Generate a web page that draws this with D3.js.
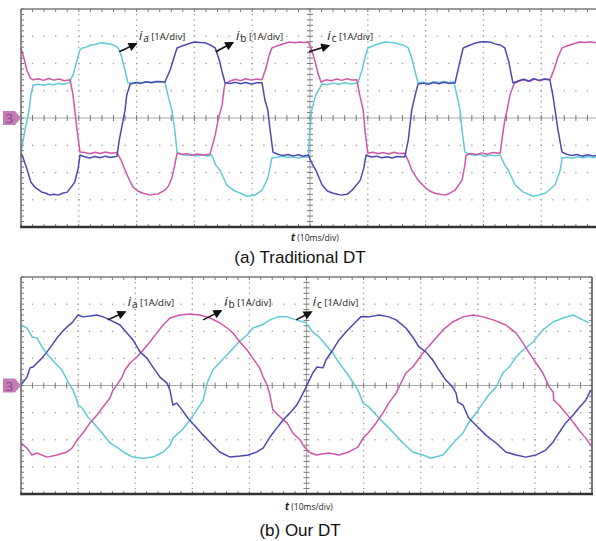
<!DOCTYPE html>
<html>
<head>
<meta charset="utf-8">
<script src="https://cdn.jsdelivr.net/npm/d3@7/dist/d3.min.js"></script>
<style>
  html, body { margin: 0; padding: 0; background: #fff; }
  svg { display: block; font-family: 'Open Sans', 'DejaVu Sans', sans-serif; }
</style>
</head>
<body>
<div id="chart"></div>
<script>
const SVG_SIZE = Object.freeze({ WIDTH: 596, HEIGHT: 541 }),
      TIME_DOMAIN = [0, 100],      // ms, 10 ms/div
      CURRENT_DOMAIN = [-4, 4],    // A, 1 A/div
      MINOR_T = 2,
      MINOR_I = 0.2,
      COLORS = Object.freeze({
        CYAN: '#5fcad8',
        BLUE: '#4b49b1',
        PINK: '#cf56a8'
      }),
      CAPTIONS = ['(a) Traditional DT', '(b) Our DT'],
      PHASES = ['a', 'b', 'c'],
      SCALE_TEXT = '[1A/div]',
      TIME_TEXT = '(10ms/div)',
      CHANNEL_TEXT = '3'

// (a) traditional dead-time: [time ms, current A]
const TRAD_IA = [[0,-1.25],[0.7,-0.44],[1.4,0.29],[1.7,0.85],[2.1,1.21],[3,1.24],[4,1.2],[4.8,1.25],[5.6,1.22],[6.5,1.27],[7.3,1.24],[8.3,1.29],[9.0,1.58],[9.7,2.13],[10.2,2.5],[10.6,2.57],[11.3,2.6],[12,2.68],[12.8,2.7],[13.7,2.76],[14.5,2.74],[15.4,2.72],[16.3,2.65],[16.8,2.57],[17.3,2.32],[18.0,1.76],[18.5,1.29],[19.3,1.27],[20.2,1.31],[21.0,1.29],[21.9,1.33],[22.8,1.3],[23.7,1.34],[24.9,1.32],[25.4,0.85],[26.1,0.29],[26.6,-0.44],[27.0,-1.25],[27.8,-1.33],[28.7,-1.38],[29.6,-1.34],[30.5,-1.39],[31.4,-1.35],[32.2,-1.4],[33.0,-1.36],[33.7,-1.73],[34.4,-1.91],[35.6,-2.46],[37.0,-2.68],[38.0,-2.76],[39.1,-2.87],[40.5,-2.83],[41.7,-2.65],[42.7,-2.21],[43.4,-1.47],[44.3,-1.44],[45.2,-1.4],[46.1,-1.45],[47.0,-1.42],[47.9,-1.47],[48.8,-1.43],[49.7,-1.43],[50.0,-0.44],[50.3,0.29],[51.0,0.85],[52.1,1.25],[53.0,1.23],[54.0,1.28],[55.0,1.24],[56.0,1.29],[57.2,1.25],[58.3,1.29],[59.0,1.76],[59.5,2.2],[60.0,2.57],[61.3,2.68],[62.2,2.74],[63.0,2.79],[64.0,2.77],[64.7,2.76],[65.4,2.71],[66.1,2.68],[67.0,2.57],[67.6,2.2],[68.2,1.69],[68.7,1.29],[69.6,1.31],[70.5,1.27],[71.4,1.33],[72.3,1.3],[73.2,1.34],[74.0,1.3],[74.9,1.32],[75.4,0.85],[75.95,0.29],[76.3,-0.44],[76.8,-1.25],[77.6,-1.33],[78.5,-1.38],[79.4,-1.34],[80.3,-1.4],[81.2,-1.36],[82.0,-1.39],[82.9,-1.36],[83.7,-1.73],[84.3,-1.91],[85.5,-2.46],[86.9,-2.72],[88.6,-2.87],[89.6,-2.83],[90.7,-2.76],[92.4,-2.46],[93.3,-1.91],[93.6,-1.47],[94.5,-1.44],[95.4,-1.48],[96.3,-1.42],[97.2,-1.46],[98.1,-1.41],[99.0,-1.45],[100,-1.43]]
const TRAD_IB = [[0,-1.29],[0.5,-1.54],[1.2,-1.99],[1.7,-2.35],[2.4,-2.54],[3.6,-2.72],[4.3,-2.76],[5.0,-2.83],[5.7,-2.8],[6.4,-2.83],[7.2,-2.76],[8.0,-2.72],[8.8,-2.5],[9.3,-2.35],[9.9,-1.84],[10.2,-1.36],[11.0,-1.42],[11.9,-1.47],[12.8,-1.41],[13.7,-1.46],[14.6,-1.4],[15.5,-1.45],[16.6,-1.4],[17.0,-0.81],[17.5,-0.26],[18.0,0.29],[18.3,0.85],[18.9,1.25],[19.8,1.3],[20.7,1.27],[21.6,1.33],[22.5,1.29],[23.4,1.34],[24.9,1.32],[25.8,1.76],[26.5,2.24],[27.0,2.57],[27.7,2.63],[28.4,2.68],[29.2,2.74],[30.1,2.79],[31.0,2.77],[31.8,2.76],[32.5,2.7],[33.0,2.65],[33.6,2.57],[34.3,2.13],[34.8,1.69],[35.3,1.29],[36.2,1.27],[37.1,1.31],[38.0,1.26],[38.9,1.3],[39.8,1.25],[40.8,1.29],[41.7,1.29],[42.2,0.66],[42.7,0.29],[43.1,-0.44],[43.6,-1.25],[44.4,-1.33],[45.3,-1.38],[46.2,-1.34],[47.1,-1.39],[48.0,-1.35],[48.9,-1.4],[49.7,-1.36],[50.3,-1.65],[51.0,-1.91],[52.1,-2.46],[53.0,-2.68],[54.0,-2.76],[55.4,-2.83],[56.4,-2.8],[57.3,-2.65],[58.7,-2.28],[59.3,-1.84],[59.7,-1.36],[60.6,-1.43],[61.5,-1.4],[62.4,-1.46],[63.3,-1.42],[64.2,-1.47],[65.1,-1.41],[66.4,-1.43],[67.0,-0.81],[67.3,-0.26],[67.6,0.29],[68.2,0.85],[68.7,1.25],[69.6,1.28],[70.5,1.24],[71.4,1.3],[72.3,1.26],[73.2,1.31],[74.1,1.27],[75.1,1.29],[75.8,1.95],[76.5,2.57],[77.7,2.68],[78.5,2.74],[79.4,2.79],[80.3,2.8],[81.1,2.79],[82.0,2.72],[82.9,2.68],[83.7,2.57],[84.4,2.06],[85.1,1.29],[86.0,1.36],[86.9,1.42],[87.8,1.35],[88.7,1.44],[89.6,1.38],[90.5,1.43],[91.5,1.4],[92.0,0.85],[92.4,0.29],[92.9,-0.44],[93.6,-1.25],[94.4,-1.33],[95.3,-1.38],[96.2,-1.34],[97.1,-1.4],[98.0,-1.35],[99.0,-1.39],[100,-1.36]]
const TRAD_IC = [[0,2.57],[0.5,2.2],[1.0,1.76],[1.6,1.47],[2.1,1.4],[3.0,1.44],[3.9,1.38],[4.8,1.45],[5.7,1.39],[6.6,1.43],[7.5,1.37],[8.5,1.4],[9.0,0.85],[9.3,0.29],[9.7,-0.44],[10.2,-1.25],[11.0,-1.27],[11.9,-1.31],[12.8,-1.26],[13.7,-1.3],[14.6,-1.25],[15.6,-1.29],[16.6,-1.27],[17.3,-1.54],[18.0,-1.91],[18.7,-2.25],[19.4,-2.54],[20.2,-2.68],[21.1,-2.76],[22.3,-2.83],[23.0,-2.8],[23.7,-2.79],[24.9,-2.65],[25.5,-2.5],[26.1,-2.21],[26.6,-1.73],[27.0,-1.29],[27.8,-1.34],[28.7,-1.3],[29.6,-1.37],[30.5,-1.32],[31.6,-1.36],[32.7,-1.33],[33.6,-0.63],[34.1,-0.07],[34.8,0.48],[35.1,1.03],[35.3,1.25],[36.2,1.36],[37.1,1.42],[38.0,1.37],[38.9,1.44],[39.8,1.39],[40.8,1.43],[41.7,1.4],[42.4,1.84],[42.9,2.28],[43.4,2.57],[44.1,2.63],[44.8,2.68],[45.7,2.74],[46.5,2.79],[47.4,2.76],[48.3,2.79],[49.0,2.77],[49.7,2.79],[50.2,2.57],[50.9,2.06],[51.4,1.62],[51.9,1.32],[52.8,1.4],[53.7,1.37],[54.6,1.43],[55.5,1.38],[56.4,1.44],[57.3,1.39],[58.1,1.4],[58.6,0.85],[59.2,0.29],[59.5,-0.44],[60.0,-1.29],[60.9,-1.26],[61.8,-1.31],[62.7,-1.27],[63.6,-1.32],[64.5,-1.26],[65.4,-1.3],[66.4,-1.29],[67.1,-1.62],[67.6,-1.91],[68.7,-2.28],[69.9,-2.54],[70.7,-2.68],[71.6,-2.76],[72.5,-2.8],[73.4,-2.83],[74.2,-2.76],[75.1,-2.65],[76.3,-2.28],[76.8,-1.73],[77.0,-1.36],[77.9,-1.3],[78.8,-1.34],[79.7,-1.28],[80.6,-1.33],[81.5,-1.27],[82.9,-1.29],[83.2,-0.81],[83.7,-0.07],[84.1,0.29],[84.6,0.85],[85.3,1.25],[86.2,1.36],[87.1,1.41],[88.0,1.35],[88.9,1.43],[89.8,1.37],[90.6,1.42],[91.5,1.4],[92.2,1.76],[92.9,2.24],[93.6,2.57],[94.3,2.63],[95.0,2.68],[95.9,2.74],[96.7,2.79],[97.6,2.77],[98.5,2.8],[99.5,2.76],[100,2.76]]

// (b) proposed dead-time: [time ms, current A]
const OUR_IA = [[0,0.02],[1.05,0.31],[1.58,0.65],[2.1,0.68],[2.8,0.83],[3.68,1.01],[4.55,1.24],[5.43,1.49],[6.3,1.75],[7.18,1.97],[8.06,2.16],[8.93,2.31],[9.98,2.6],[10.86,2.53],[12.08,2.56],[13.31,2.6],[14.36,2.53],[15.58,2.42],[17.34,2.23],[18.56,1.94],[19.61,1.68],[20.84,1.24],[22.06,1.01],[23.11,0.68],[24.34,0.31],[25.56,0.09],[26.09,-0.17],[26.6,-0.72],[27.3,-0.65],[28.2,-0.9],[29.2,-1.2],[30.8,-1.57],[31.9,-1.83],[33.6,-2.2],[34.8,-2.45],[36.6,-2.64],[38.4,-2.6],[39.8,-2.56],[41.3,-2.45],[42.4,-2.31],[43.6,-1.9],[44.8,-1.57],[45.9,-1.27],[47.1,-1.01],[48.3,-0.72],[49.4,-0.28],[50.1,0.02],[51.1,0.46],[51.8,0.68],[52.9,0.65],[53.4,0.94],[54.6,1.31],[55.7,1.68],[56.9,1.97],[58.1,2.23],[59.5,2.53],[60.9,2.53],[62.7,2.6],[64.4,2.53],[65.7,2.42],[67.4,2.12],[68.6,1.79],[69.7,1.42],[70.9,1.24],[72.1,0.94],[73.2,0.57],[74.4,0.2],[75.6,-0.06],[76.2,-0.28],[76.5,-0.61],[77.4,-0.72],[78.4,-1.2],[80.0,-1.53],[81.4,-1.83],[83.2,-2.12],[84.9,-2.45],[86.7,-2.56],[88.4,-2.64],[90.2,-2.56],[91.9,-2.38],[93.2,-2.08],[94.2,-1.75],[95.4,-1.38],[96.7,-1.09],[97.7,-0.83],[98.9,-0.54],[99.8,-0.17]]
const OUR_IB = [[0,-2.12],[1.05,-2.31],[1.93,-2.56],[2.8,-2.49],[4.55,-2.64],[6.3,-2.56],[8.06,-2.45],[8.93,-2.31],[9.8,-2.01],[10.86,-1.75],[12.08,-1.38],[13.31,-1.09],[14.36,-0.79],[15.58,-0.46],[16.1,-0.17],[16.8,0.02],[17.7,0.31],[18.2,0.57],[19.1,0.83],[20.3,1.05],[21.4,1.31],[22.6,1.61],[23.8,1.94],[24.9,2.23],[26.1,2.49],[27.8,2.6],[29.6,2.64],[31.3,2.6],[33.1,2.49],[34.8,2.31],[36.1,2.12],[37.1,1.94],[38.3,1.61],[39.6,1.31],[40.6,1.01],[41.8,0.65],[42.4,0.31],[43.1,0.02],[43.6,-0.35],[44.1,-0.9],[45.4,-1.16],[46.6,-1.38],[47.6,-1.75],[48.9,-2.01],[49.4,-2.2],[50.4,-2.45],[51.7,-2.56],[53.9,-2.49],[55.7,-2.56],[57.4,-2.45],[59.0,-2.27],[59.9,-1.94],[60.8,-1.75],[62.2,-1.38],[63.4,-1.01],[64.4,-0.65],[65.7,-0.28],[66.2,-0.06],[67.4,0.46],[68.6,0.68],[70.4,1.2],[72.1,1.61],[73.9,2.05],[75.6,2.34],[77.4,2.53],[79.2,2.6],[80.9,2.53],[82.7,2.42],[84.9,2.23],[86.7,1.94],[87.9,1.57],[89.0,1.2],[90.2,0.83],[91.4,0.46],[92.5,-0.06],[93.2,-0.24],[93.3,-0.54],[94.2,-0.72],[95.4,-1.01],[96.7,-1.35],[97.7,-1.64],[98.9,-1.94],[99.8,-2.2]]
const OUR_IC = [[0,2.23],[1.05,2.12],[1.93,1.79],[2.8,1.75],[3.68,1.42],[4.73,1.12],[5.95,0.83],[7.18,0.57],[8.23,0.13],[9.1,-0.17],[9.8,-0.54],[9.98,-0.72],[10.7,-0.83],[11.7,-1.16],[13.0,-1.46],[14.2,-1.75],[15.6,-2.12],[16.8,-2.27],[18.2,-2.49],[19.6,-2.64],[21.4,-2.68],[23.1,-2.64],[24.9,-2.45],[26.1,-2.2],[26.6,-1.94],[28.2,-1.64],[29.6,-1.27],[30.8,-0.9],[31.9,-0.54],[32.6,0.09],[33.6,0.57],[35.2,0.94],[36.6,1.24],[38.0,1.57],[39.6,1.86],[40.6,2.12],[42.2,2.23],[43.6,2.42],[45.0,2.53],[46.6,2.53],[48.2,2.42],[49.9,2.31],[51.1,1.97],[52.2,1.79],[53.4,1.49],[54.6,1.2],[55.7,0.83],[56.9,0.5],[58.1,0.13],[59.0,-0.17],[59.5,-0.42],[59.9,-0.65],[60.9,-0.79],[62.2,-1.09],[63.4,-1.35],[65.1,-1.71],[66.9,-2.12],[68.6,-2.45],[70.4,-2.56],[71.8,-2.68],[73.9,-2.56],[74.9,-2.31],[76.2,-2.01],[77.4,-1.75],[78.4,-1.38],[79.7,-1.01],[80.9,-0.65],[81.9,-0.35],[83.2,-0.06],[84.4,0.46],[85.5,0.68],[86.7,1.05],[87.9,1.31],[89.7,1.61],[91.4,2.05],[93.2,2.34],[94.9,2.49],[96.7,2.6],[98.4,2.42],[99.5,2.31]]

// label anchors in data units: [time, current]
const TRAD_LABELS = [
  { text: [20.4, 2.87], from: [17.0, 2.43], to: [19.9, 2.72] },
  { text: [37.2, 2.87], from: [33.7, 2.43], to: [36.6, 2.76] },
  { text: [53.0, 2.87], from: [49.8, 2.43], to: [53.2, 2.65] }
]
const OUR_LABELS = [
  { text: [18.7, 2.93], from: [15.2, 2.42], to: [18.2, 2.71] },
  { text: [35.6, 2.93], from: [31.9, 2.42], to: [35.0, 2.75] },
  { text: [51.1, 2.93], from: [48.2, 2.42], to: [50.8, 2.71] }
]

const PANELS = [
  {
    LEFT: 21, RIGHT: 599, TOP: 9, BOTTOM: 227, TIME_Y: 241, TIME_X: 291, CAPTION_Y: 263,
    series: [[TRAD_IA, COLORS.CYAN], [TRAD_IC, COLORS.PINK], [TRAD_IB, COLORS.BLUE]],
    labels: TRAD_LABELS, caption: CAPTIONS[0], closed: false
  },
  {
    LEFT: 21, RIGHT: 592, TOP: 277, BOTTOM: 494, TIME_Y: 510, TIME_X: 285, CAPTION_Y: 536,
    series: [[OUR_IC, COLORS.CYAN], [OUR_IB, COLORS.PINK], [OUR_IA, COLORS.BLUE]],
    labels: OUR_LABELS, caption: CAPTIONS[1], closed: true
  }
]

const svg = d3.select('#chart')
  .append('svg')
  .attr('width', SVG_SIZE.WIDTH)
  .attr('height', SVG_SIZE.HEIGHT)

const defs = svg.append('defs')
defs.append('marker')
  .attr('id', 'arrow')
  .attr('viewBox', '0 0 10 10')
  .attr('refX', 8)
  .attr('refY', 5)
  .attr('markerUnits', 'userSpaceOnUse')
  .attr('markerWidth', 10)
  .attr('markerHeight', 9)
  .attr('orient', 'auto')
  .append('path')
  .attr('d', 'M0,0L10,5L0,10Z')
  .attr('fill', '#111')

const buildPanel = (p) => {
  const x = d3.scaleLinear().domain(TIME_DOMAIN).range([p.LEFT, p.RIGHT]),
        y = d3.scaleLinear().domain(CURRENT_DOMAIN).range([p.BOTTOM, p.TOP])
  const g = svg.append('g')

  const minorT = d3.range(TIME_DOMAIN[0], TIME_DOMAIN[1] + 0.01, MINOR_T),
        minorI = d3.range(CURRENT_DOMAIN[0], CURRENT_DOMAIN[1] + 0.01, MINOR_I),
        gridT = x.ticks(10).filter(t => t > 0 && t < 100 && t !== 50),
        gridI = y.ticks(8).filter(v => v > -4 && v < 4 && v !== 0)

  // dotted graticule
  const dots = []
  gridT.forEach(t => minorI.forEach(v => dots.push([t, v])))
  gridI.forEach(v => minorT.forEach(t => dots.push([t, v])))
  g.append('g').selectAll('rect')
    .data(dots)
    .enter()
    .append('rect')
    .attr('x', d => x(d[0]) - 0.6)
    .attr('y', d => y(d[1]) - 0.6)
    .attr('width', 1.3)
    .attr('height', 1.3)
    .attr('fill', '#9a9a9a')

  // centre cross with ticks
  g.append('line')
    .attr('x1', x(0)).attr('x2', x(100))
    .attr('y1', y(0)).attr('y2', y(0))
    .attr('stroke', '#a8a8a8').attr('stroke-width', 1)
  g.append('line')
    .attr('x1', x(50)).attr('x2', x(50))
    .attr('y1', y(-4)).attr('y2', y(4))
    .attr('stroke', '#a8a8a8').attr('stroke-width', 1)
  g.append('g').selectAll('line')
    .data(minorT)
    .enter()
    .append('line')
    .attr('x1', d => x(d)).attr('x2', d => x(d))
    .attr('y1', y(0) - 3).attr('y2', y(0) + 3)
    .attr('stroke', '#777').attr('stroke-width', 1)
  g.append('g').selectAll('line')
    .data(minorI)
    .enter()
    .append('line')
    .attr('x1', x(50) - 3).attr('x2', x(50) + 3)
    .attr('y1', d => y(d)).attr('y2', d => y(d))
    .attr('stroke', '#777').attr('stroke-width', 1)

  // edge ticks
  const edgeTicks = g.append('g').attr('stroke', '#777').attr('stroke-width', 1)
  minorI.forEach(v => {
    edgeTicks.append('line')
      .attr('x1', x(0)).attr('x2', x(0) + 3)
      .attr('y1', y(v)).attr('y2', y(v))
    if (p.closed) {
      edgeTicks.append('line')
        .attr('x1', x(100) - 3).attr('x2', x(100))
        .attr('y1', y(v)).attr('y2', y(v))
    }
  })
  minorT.forEach(t => {
    edgeTicks.append('line')
      .attr('x1', x(t)).attr('x2', x(t))
      .attr('y1', y(4)).attr('y2', y(4) + 3)
    edgeTicks.append('line')
      .attr('x1', x(t)).attr('x2', x(t))
      .attr('y1', y(-4) - 3).attr('y2', y(-4))
  })

  // current traces
  const line = d3.line()
    .x(d => x(d[0]))
    .y(d => y(d[1]))
  p.series.forEach(([data, color]) => {
    g.append('path')
      .datum(data)
      .attr('d', line)
      .attr('fill', 'none')
      .attr('stroke', color)
      .attr('stroke-width', 1.5)
      .attr('stroke-linejoin', 'round')
  })

  // frame
  g.append('line')
    .attr('x1', x(0)).attr('x2', x(0)).attr('y1', y(4)).attr('y2', y(-4))
    .attr('stroke', '#6a6a6a').attr('stroke-width', 1.5)
  g.append('line')
    .attr('x1', x(0)).attr('x2', x(100)).attr('y1', y(4)).attr('y2', y(4))
    .attr('stroke', '#7a7a7a').attr('stroke-width', 1.3)
  if (p.closed) {
    g.append('line')
      .attr('x1', x(100)).attr('x2', x(100)).attr('y1', y(4)).attr('y2', y(-4))
      .attr('stroke', '#6a6a6a').attr('stroke-width', 1.8)
  }
  g.append('line')
    .attr('x1', x(0) - 0.75).attr('x2', x(100) + 1).attr('y1', y(-4)).attr('y2', y(-4))
    .attr('stroke', '#333').attr('stroke-width', 2.5)

  // channel marker
  const cy = y(0), lx = x(0)
  g.append('path')
    .attr('d', `M${lx - 18},${cy - 7}L${lx - 6},${cy - 7}L${lx},${cy}L${lx - 6},${cy + 7}L${lx - 18},${cy + 7}Z`)
    .attr('fill', '#c47cb9')
  g.append('text')
    .attr('x', lx - 11.5).attr('y', cy + 5)
    .attr('text-anchor', 'middle')
    .style('font-size', '13px')
    .attr('fill', '#7e4a79')
    .text(CHANNEL_TEXT)

  // phase labels with arrows
  p.labels.forEach((l, i) => {
    g.append('line')
      .attr('x1', x(l.from[0])).attr('y1', y(l.from[1]))
      .attr('x2', x(l.to[0])).attr('y2', y(l.to[1]))
      .attr('stroke', '#111').attr('stroke-width', 1.6)
      .attr('marker-end', 'url(#arrow)')
    const t = g.append('text')
      .attr('x', x(l.text[0])).attr('y', y(l.text[1]))
      .attr('fill', '#222')
    t.append('tspan').style('font-size', '13px').style('font-style', 'italic').text('i')
    t.append('tspan').style('font-size', '10px').attr('dx', 1).attr('dy', 2).text(PHASES[i])
    t.append('tspan').style('font-size', '9.5px').attr('dy', -2).text(' ' + SCALE_TEXT)
  })

  // time scale note
  const tt = g.append('text')
    .attr('x', p.TIME_X).attr('y', p.TIME_Y)
    .attr('fill', '#222')
  tt.append('tspan').style('font-size', '10px').style('font-style', 'italic').style('font-weight', 'bold').text('t')
  tt.append('tspan').style('font-size', '8.5px').text(' ' + TIME_TEXT)

  // caption
  svg.append('text')
    .attr('x', 300).attr('y', p.CAPTION_Y)
    .attr('text-anchor', 'middle')
    .style('font-family', "'Liberation Sans', Arial, sans-serif")
    .style('font-size', '17px')
    .attr('fill', '#111')
    .text(p.caption)
}

PANELS.forEach(buildPanel)
</script>
</body>
</html>
